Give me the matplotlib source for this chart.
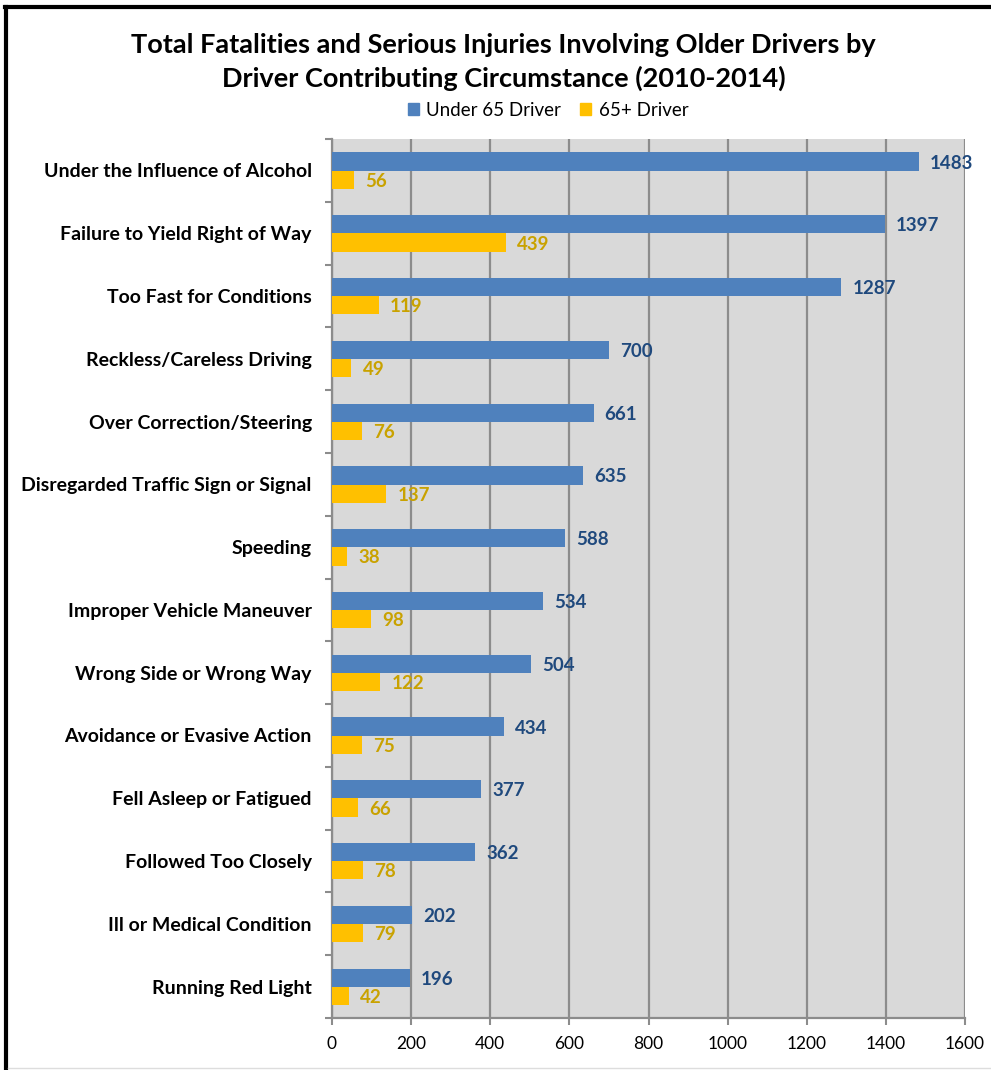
#!/usr/bin/env python3

import matplotlib
matplotlib.use('Agg')
import matplotlib.pyplot as plt
from matplotlib.lines import Line2D
from matplotlib.patches import Patch
from matplotlib.ticker import MultipleLocator, FixedLocator
import numpy as np

categories = [
    'Under the Influence of Alcohol',
    'Failure to Yield Right of Way',
    'Too Fast for Conditions',
    'Reckless/Careless Driving',
    'Over Correction/Steering',
    'Disregarded Traffic Sign or Signal',
    'Speeding',
    'Improper Vehicle Maneuver',
    'Wrong Side or Wrong Way',
    'Avoidance or Evasive Action',
    'Fell Asleep or Fatigued',
    'Followed Too Closely',
    'Ill or Medical Condition',
    'Running Red Light',
]
under_65 = [1483, 1397, 1287, 700, 661, 635, 588, 534, 504, 434, 377, 362, 202, 196]
over_65 = [56, 439, 119, 49, 76, 137, 38, 98, 122, 75, 66, 78, 79, 42]

BLUE = '#4F81BD'
GOLD = '#FFC000'
BLUE_TXT = '#1F497D'
GOLD_TXT = '#C9A200'
GRID = '#8C8C8C'

plt.rcParams['font.family'] = ['Lato', 'DejaVu Sans']


def main():
    figure = plt.figure(figsize=(9.91, 10.70), dpi=100)
    axis = figure.add_axes([0.335, 0.0486, 0.6388, 0.8214])
    axis.set_facecolor('#D9D9D9')

    pos = np.arange(len(categories))
    h = 0.29
    axis.barh(pos - 0.143, under_65, height=h, color=BLUE, zorder=3)
    axis.barh(pos + 0.148, over_65, height=h, color=GOLD, zorder=3)

    # value labels just right of each bar
    for y, v in zip(pos, under_65):
        axis.annotate(str(v), (v, y - 0.143), xytext=(8, 0), textcoords='offset points',
                      va='center_baseline', ha='left', fontsize=13.5, fontweight='bold',
                      color=BLUE_TXT)
    for y, v in zip(pos, over_65):
        axis.annotate(str(v), (v, y + 0.148), xytext=(8, 0), textcoords='offset points',
                      va='center_baseline', ha='left', fontsize=13.5, fontweight='bold',
                      color=GOLD_TXT)

    axis.set_xlim(0, 1600)
    axis.set_ylim(len(categories) - 0.5, -0.5)
    axis.xaxis.set_major_locator(MultipleLocator(200))
    axis.set_yticks(pos)
    axis.set_yticklabels(categories, fontsize=14, fontweight='bold')
    axis.yaxis.set_minor_locator(FixedLocator(np.arange(-0.5, len(categories), 1.0)))
    axis.tick_params(axis='y', which='major', length=0, pad=14.5)
    axis.tick_params(axis='y', which='minor', length=5, width=1.5, color=GRID)
    axis.tick_params(axis='x', which='major', length=5, width=1.5, color=GRID,
                     labelsize=12.5, pad=8)

    axis.grid(axis='x', color=GRID, linewidth=1.6, zorder=1)
    axis.set_axisbelow(True)
    for side in ['top', 'right']:
        axis.spines[side].set_visible(False)
    for side in ['left', 'bottom']:
        axis.spines[side].set_color(GRID)
        axis.spines[side].set_linewidth(1.6)

    figure.text(0.508, 1 - 45 / 1070, 'Total Fatalities and Serious Injuries Involving Older Drivers by',
                ha='center', va='center', fontsize=19.5, fontweight='bold')
    figure.text(0.508, 1 - 78 / 1070, 'Driver Contributing Circumstance (2010-2014)',
                ha='center', va='center', fontsize=19.5, fontweight='bold')

    handles = [Patch(color=BLUE, label='Under 65 Driver'), Patch(color=GOLD, label='65+ Driver')]
    figure.legend(handles=handles, loc='center', bbox_to_anchor=(0.553, 1 - 110 / 1070), ncol=2,
                  frameon=False, fontsize=13.5, handlelength=0.6, handleheight=0.6,
                  handletextpad=0.4, columnspacing=1.0)

    # outer frame (left and top black, bottom light)
    figure.add_artist(Line2D([0.0065, 0.0065], [0, 0.9935], transform=figure.transFigure,
                             color='black', linewidth=3))
    figure.add_artist(Line2D([0.005, 1.0], [0.9935, 0.9935], transform=figure.transFigure,
                             color='black', linewidth=3))
    figure.add_artist(Line2D([0.008, 1.0], [0.002, 0.002], transform=figure.transFigure,
                             color='#DDDDDD', linewidth=1))

    figure.savefig('out.png', dpi=100)
    return 0


if __name__ == '__main__':
    main()
